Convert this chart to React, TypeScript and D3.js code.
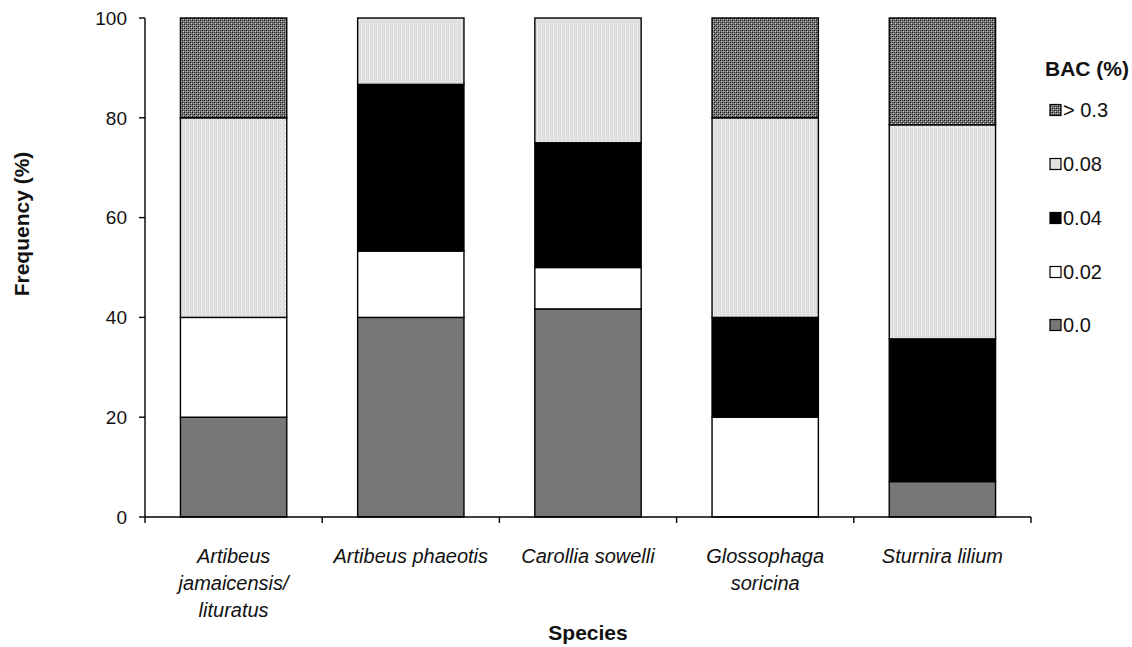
import React from "react";
import * as d3 from "d3";

const species = [
  ["Artibeus", "jamaicensis/", "lituratus"],
  ["Artibeus phaeotis"],
  ["Carollia sowelli"],
  ["Glossophaga", "soricina"],
  ["Sturnira lilium"],
];
const levels = ["0.0", "0.02", "0.04", "0.08", "> 0.3"];
const v00 = [20, 40, 41.7, 0, 7.1];
const v002 = [20, 13.3, 8.3, 20, 0];
const v004 = [0, 33.4, 25, 20, 28.6];
const v008 = [40, 13.3, 25, 40, 42.9];
const v03 = [20, 0, 0, 20, 21.4];
const yTicks = [0, 20, 40, 60, 80, 100];

const fills = ["#777777", "#ffffff", "#000000", "url(#pLight)", "url(#pDark)"];

export default function App() {
  const W = 1132, H = 647;
  const x0 = 145, x1 = 1031, yTop = 18, yBot = 517;
  const idx = species.map((_, i) => String(i));
  const x = d3.scaleBand().domain(idx).range([x0, x1]).paddingInner(0.4).paddingOuter(0.2);
  const xb = d3.scaleBand().domain(idx).range([x0, x1]);
  const y = d3.scaleLinear().domain([0, 100]).range([yBot, yTop]);
  const rows = idx.map((k, i) => ({ k, a: v00[i], b: v002[i], c: v004[i], d: v008[i], e: v03[i] }));
  const stack = d3.stack<any>().keys(["a", "b", "c", "d", "e"])(rows);
  const font = "'Liberation Sans', Arial, sans-serif";
  const legY = [325, 272, 218, 164, 110];

  return (
    <svg width={W} height={H} style={{ position: "absolute", left: 0, top: 0 }} fontFamily={font}>
      <defs>
        <pattern id="pDark" width="4" height="4" patternUnits="userSpaceOnUse">
          <rect width="4" height="4" fill="#7a7a7a" />
          <rect x="0" y="0" width="1" height="1" fill="#111" />
          <rect x="2" y="2" width="1" height="1" fill="#111" />
          <rect x="2" y="0" width="1" height="1" fill="#3a3a3a" />
          <rect x="0" y="2" width="1" height="1" fill="#3a3a3a" />
          <rect x="1" y="1" width="1" height="1" fill="#c8c8c8" />
          <rect x="3" y="3" width="1" height="1" fill="#c8c8c8" />
        </pattern>
        <pattern id="pLight" width="4" height="4" patternUnits="userSpaceOnUse">
          <rect width="4" height="4" fill="#e2e2e2" />
          <rect x="0" y="0" width="1" height="1" fill="#c8c8c8" />
          <rect x="2" y="2" width="1" height="1" fill="#c8c8c8" />
          <rect x="1" y="0" width="1" height="4" fill="#ececec" />
        </pattern>
      </defs>
      <rect width={W} height={H} fill="#fff" />
      {stack.map((s, si) =>
        s.map((d, i) =>
          d[1] - d[0] > 0 ? (
            <rect
              key={si + "-" + i}
              x={x(String(i))}
              width={x.bandwidth()}
              y={y(d[1])}
              height={y(d[0]) - y(d[1])}
              fill={fills[si]}
              stroke="#000"
              strokeWidth={1.4}
            />
          ) : null
        )
      )}
      {/* y axis */}
      <line x1={x0} x2={x0} y1={yTop} y2={yBot} stroke="#000" strokeWidth={1.4} />
      {yTicks.map((t) => (
        <g key={t}>
          <line x1={x0 - 6} x2={x0} y1={y(t)} y2={y(t)} stroke="#000" strokeWidth={1.4} />
          <text x={127} y={y(t)} dy="0.36em" textAnchor="end" fontSize={19} fill="#111">{t}</text>
        </g>
      ))}
      {/* x axis */}
      <line x1={x0} x2={x1} y1={yBot} y2={yBot} stroke="#000" strokeWidth={1.4} />
      {[...idx.map((k) => xb(k)!), x1].map((px, i) => (
        <line key={i} x1={px} x2={px} y1={yBot} y2={yBot + 6} stroke="#000" strokeWidth={1.4} />
      ))}
      {species.map((lines, i) => (
        <text key={i} textAnchor="middle" fontSize={20} fontStyle="italic" fill="#111">
          {lines.map((l, j) => (
            <tspan key={j} x={x(String(i))! + x.bandwidth() / 2} y={563 + j * 27}>{l}</tspan>
          ))}
        </text>
      ))}
      <text x={588} y={640} textAnchor="middle" fontSize={21} fontWeight="bold" fill="#111">Species</text>
      <text transform={`translate(29,224) rotate(-90)`} textAnchor="middle" fontSize={21} fontWeight="bold" fill="#111">Frequency (%)</text>
      {/* legend */}
      <text x={1045} y={76} fontSize={21} fontWeight="bold" fill="#111">BAC (%)</text>
      {levels.map((l, i) => (
        <g key={l}>
          <rect x={1050} y={legY[i] - 5.5} width={11} height={11} fill={fills[i]} stroke="#000" strokeWidth={1.2} />
          <text x={1063} y={legY[i]} dy="0.36em" fontSize={20} fill="#111">{l}</text>
        </g>
      ))}
    </svg>
  );
}
